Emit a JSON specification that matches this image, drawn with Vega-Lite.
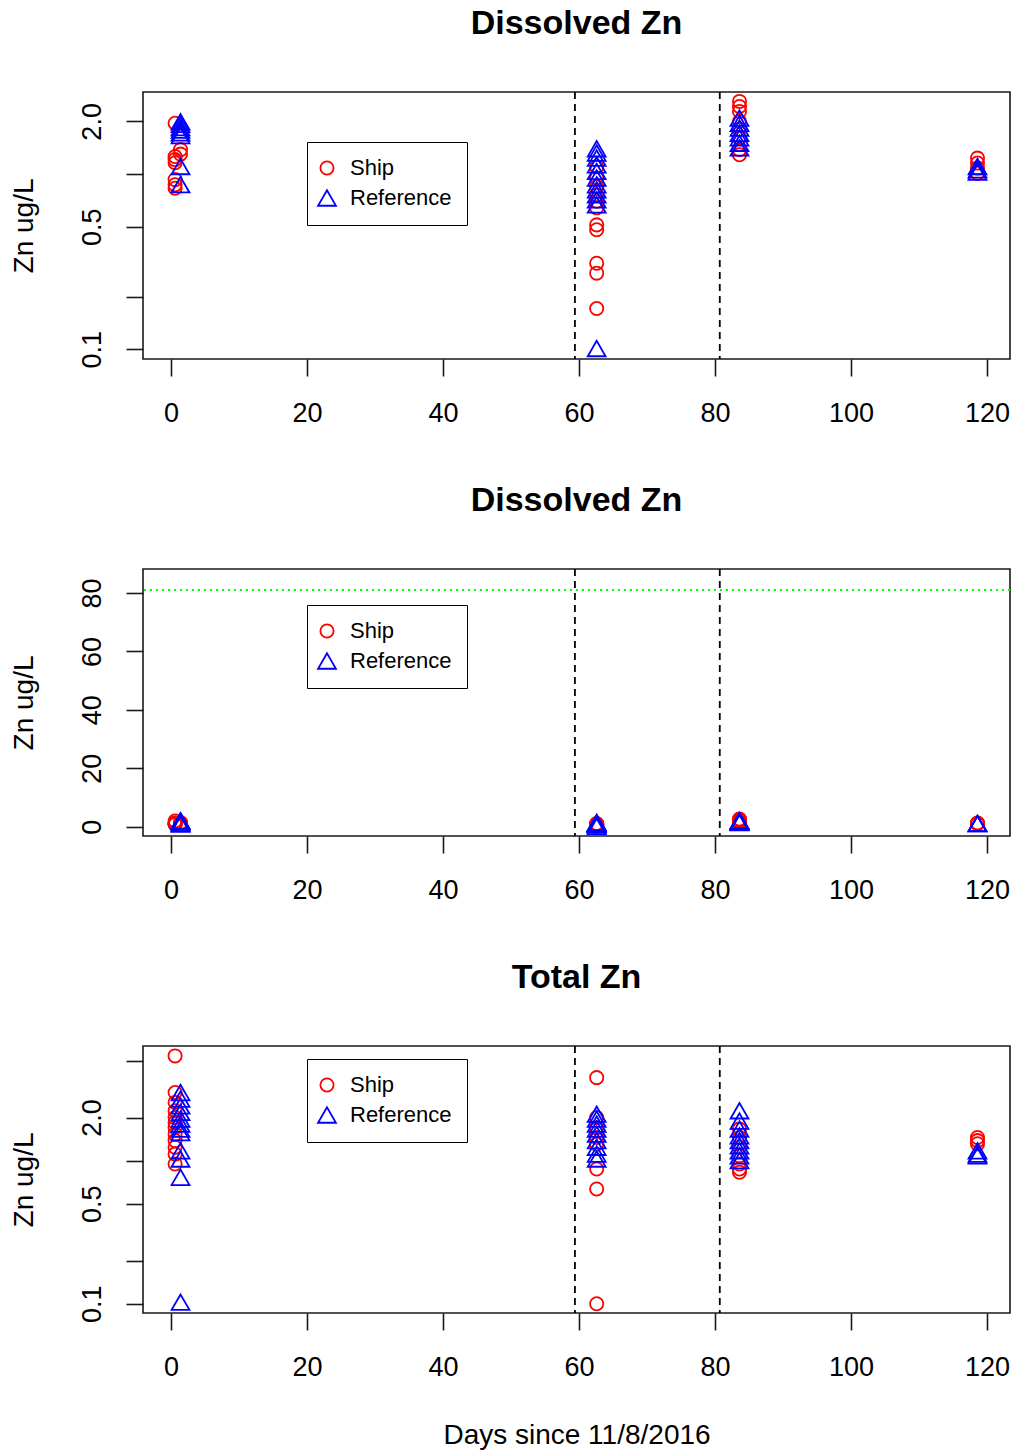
{
  "$schema": "https://vega.github.io/schema/vega-lite/v6.json",
  "autosize": {"type": "pad"},
  "padding": {"left": 9, "top": 6, "right": 6, "bottom": 0},
  "background": "white",
  "bounds": "flush",
  "spacing": 210,
  "datasets": {
    "dissolved": [
      {"day": 0.6, "series": "Ship", "zn": 1.95},
      {"day": 0.6, "series": "Ship", "zn": 1.26},
      {"day": 0.6, "series": "Ship", "zn": 1.21},
      {"day": 0.6, "series": "Ship", "zn": 1.16},
      {"day": 0.6, "series": "Ship", "zn": 0.93},
      {"day": 0.6, "series": "Ship", "zn": 0.87},
      {"day": 0.6, "series": "Ship", "zn": 0.83},
      {"day": 1.4, "series": "Ship", "zn": 1.38},
      {"day": 1.4, "series": "Ship", "zn": 1.3},
      {"day": 62.6, "series": "Ship", "zn": 1.1},
      {"day": 62.6, "series": "Ship", "zn": 0.95},
      {"day": 62.6, "series": "Ship", "zn": 0.85},
      {"day": 62.6, "series": "Ship", "zn": 0.76},
      {"day": 62.6, "series": "Ship", "zn": 0.7},
      {"day": 62.6, "series": "Ship", "zn": 0.642},
      {"day": 62.6, "series": "Ship", "zn": 0.513},
      {"day": 62.6, "series": "Ship", "zn": 0.481},
      {"day": 62.6, "series": "Ship", "zn": 0.31},
      {"day": 62.6, "series": "Ship", "zn": 0.272},
      {"day": 62.6, "series": "Ship", "zn": 0.171},
      {"day": 83.6, "series": "Ship", "zn": 2.6},
      {"day": 83.6, "series": "Ship", "zn": 2.43},
      {"day": 83.6, "series": "Ship", "zn": 2.28},
      {"day": 83.6, "series": "Ship", "zn": 2.0},
      {"day": 83.6, "series": "Ship", "zn": 1.8},
      {"day": 83.6, "series": "Ship", "zn": 1.6},
      {"day": 83.6, "series": "Ship", "zn": 1.38},
      {"day": 83.6, "series": "Ship", "zn": 1.29},
      {"day": 118.6, "series": "Ship", "zn": 1.234},
      {"day": 118.6, "series": "Ship", "zn": 1.156},
      {"day": 118.6, "series": "Ship", "zn": 1.082},
      {"day": 118.6, "series": "Ship", "zn": 1.013},
      {"day": 1.4, "series": "Reference", "zn": 1.99},
      {"day": 1.4, "series": "Reference", "zn": 1.92},
      {"day": 1.4, "series": "Reference", "zn": 1.84},
      {"day": 1.4, "series": "Reference", "zn": 1.78},
      {"day": 1.4, "series": "Reference", "zn": 1.72},
      {"day": 1.4, "series": "Reference", "zn": 1.66},
      {"day": 1.4, "series": "Reference", "zn": 1.105},
      {"day": 1.4, "series": "Reference", "zn": 0.87},
      {"day": 62.6, "series": "Reference", "zn": 1.395},
      {"day": 62.6, "series": "Reference", "zn": 1.318},
      {"day": 62.6, "series": "Reference", "zn": 1.234},
      {"day": 62.6, "series": "Reference", "zn": 1.13},
      {"day": 62.6, "series": "Reference", "zn": 1.035},
      {"day": 62.6, "series": "Reference", "zn": 0.949},
      {"day": 62.6, "series": "Reference", "zn": 0.868},
      {"day": 62.6, "series": "Reference", "zn": 0.813},
      {"day": 62.6, "series": "Reference", "zn": 0.762},
      {"day": 62.6, "series": "Reference", "zn": 0.713},
      {"day": 62.6, "series": "Reference", "zn": 0.668},
      {"day": 62.6, "series": "Reference", "zn": 0.101},
      {"day": 83.6, "series": "Reference", "zn": 2.09},
      {"day": 83.6, "series": "Reference", "zn": 1.95},
      {"day": 83.6, "series": "Reference", "zn": 1.83},
      {"day": 83.6, "series": "Reference", "zn": 1.71},
      {"day": 83.6, "series": "Reference", "zn": 1.61},
      {"day": 83.6, "series": "Reference", "zn": 1.5},
      {"day": 83.6, "series": "Reference", "zn": 1.41},
      {"day": 118.6, "series": "Reference", "zn": 1.105},
      {"day": 118.6, "series": "Reference", "zn": 1.058},
      {"day": 118.6, "series": "Reference", "zn": 1.027}
    ],
    "total": [
      {"day": 0.6, "series": "Ship", "zn": 5.39},
      {"day": 0.6, "series": "Ship", "zn": 2.99},
      {"day": 0.6, "series": "Ship", "zn": 2.55},
      {"day": 0.6, "series": "Ship", "zn": 2.23},
      {"day": 0.6, "series": "Ship", "zn": 2.0},
      {"day": 0.6, "series": "Ship", "zn": 1.85},
      {"day": 0.6, "series": "Ship", "zn": 1.7},
      {"day": 0.6, "series": "Ship", "zn": 1.53},
      {"day": 0.6, "series": "Ship", "zn": 1.38},
      {"day": 0.6, "series": "Ship", "zn": 1.24},
      {"day": 0.6, "series": "Ship", "zn": 1.11},
      {"day": 0.6, "series": "Ship", "zn": 0.947},
      {"day": 62.6, "series": "Ship", "zn": 3.8},
      {"day": 62.6, "series": "Ship", "zn": 2.0},
      {"day": 62.6, "series": "Ship", "zn": 1.7},
      {"day": 62.6, "series": "Ship", "zn": 1.45},
      {"day": 62.6, "series": "Ship", "zn": 1.3},
      {"day": 62.6, "series": "Ship", "zn": 0.874},
      {"day": 62.6, "series": "Ship", "zn": 0.634},
      {"day": 62.6, "series": "Ship", "zn": 0.1},
      {"day": 83.6, "series": "Ship", "zn": 1.66},
      {"day": 83.6, "series": "Ship", "zn": 1.45},
      {"day": 83.6, "series": "Ship", "zn": 1.24},
      {"day": 83.6, "series": "Ship", "zn": 1.08},
      {"day": 83.6, "series": "Ship", "zn": 0.947},
      {"day": 83.6, "series": "Ship", "zn": 0.874},
      {"day": 83.6, "series": "Ship", "zn": 0.83},
      {"day": 118.6, "series": "Ship", "zn": 1.45},
      {"day": 118.6, "series": "Ship", "zn": 1.38},
      {"day": 118.6, "series": "Ship", "zn": 1.31},
      {"day": 1.4, "series": "Reference", "zn": 2.99},
      {"day": 1.4, "series": "Reference", "zn": 2.69},
      {"day": 1.4, "series": "Reference", "zn": 2.41},
      {"day": 1.4, "series": "Reference", "zn": 2.17},
      {"day": 1.4, "series": "Reference", "zn": 1.95},
      {"day": 1.4, "series": "Reference", "zn": 1.8},
      {"day": 1.4, "series": "Reference", "zn": 1.66},
      {"day": 1.4, "series": "Reference", "zn": 1.57},
      {"day": 1.4, "series": "Reference", "zn": 1.17},
      {"day": 1.4, "series": "Reference", "zn": 1.026},
      {"day": 1.4, "series": "Reference", "zn": 0.764},
      {"day": 1.4, "series": "Reference", "zn": 0.1026},
      {"day": 62.6, "series": "Reference", "zn": 2.11},
      {"day": 62.6, "series": "Reference", "zn": 1.95},
      {"day": 62.6, "series": "Reference", "zn": 1.8},
      {"day": 62.6, "series": "Reference", "zn": 1.66},
      {"day": 62.6, "series": "Reference", "zn": 1.53},
      {"day": 62.6, "series": "Reference", "zn": 1.38},
      {"day": 62.6, "series": "Reference", "zn": 1.24},
      {"day": 62.6, "series": "Reference", "zn": 1.11},
      {"day": 62.6, "series": "Reference", "zn": 1.026},
      {"day": 83.6, "series": "Reference", "zn": 2.23},
      {"day": 83.6, "series": "Reference", "zn": 1.89},
      {"day": 83.6, "series": "Reference", "zn": 1.66},
      {"day": 83.6, "series": "Reference", "zn": 1.49},
      {"day": 83.6, "series": "Reference", "zn": 1.38},
      {"day": 83.6, "series": "Reference", "zn": 1.27},
      {"day": 83.6, "series": "Reference", "zn": 1.17},
      {"day": 83.6, "series": "Reference", "zn": 1.08},
      {"day": 83.6, "series": "Reference", "zn": 1.0},
      {"day": 118.6, "series": "Reference", "zn": 1.17},
      {"day": 118.6, "series": "Reference", "zn": 1.11},
      {"day": 118.6, "series": "Reference", "zn": 1.08}
    ],
    "vlines": [{"day": 59.4}, {"day": 80.7}],
    "criterion": [{"zn": 81}]
  },
  "config": {
    "font": "Liberation Sans",
    "view": {"stroke": "#1a1a1a", "strokeWidth": 1.6},
    "axis": {
      "grid": false, "domain": false,
      "tickColor": "#1a1a1a", "tickWidth": 1.6, "tickSize": 17,
      "labelFont": "Liberation Sans", "labelFontSize": 27, "labelColor": "black",
      "titleFont": "Liberation Sans", "titleFontSize": 28, "titleFontWeight": "normal", "titleColor": "black",
      "labelOverlap": false, "labelFlush": false
    },
    "legend": {
      "title": null, "orient": "none", "strokeColor": "black", "fillColor": "white", "padding": 15,
      "labelFontSize": 22, "labelFont": "Liberation Sans", "labelColor": "black",
      "symbolStrokeWidth": 1.8, "rowPadding": 7, "labelOffset": 12, "symbolOffset": -6, "symbolSize": 150
    },
    "title": {"font": "Liberation Sans", "fontSize": 34, "fontWeight": "bold", "color": "black", "anchor": "middle", "baseline": "alphabetic", "offset": 50}
  },
  "resolve": {
    "scale": {"x": "independent", "y": "independent", "color": "independent", "shape": "independent", "size": "independent"},
    "legend": {"color": "independent", "shape": "independent"}
  },
  "vconcat": [
    {
      "width": 867, "height": 267,
      "title": {"text": "Dissolved Zn"},
      "layer": [
        {
          "data": {"name": "vlines"},
          "mark": {"type": "rule", "stroke": "black", "strokeDash": [7, 5], "strokeWidth": 1.8},
          "encoding": {"x": {"field": "day", "type": "quantitative"}}
        },
        {
          "data": {"name": "dissolved"},
          "mark": {"type": "point", "filled": false, "strokeWidth": 1.8, "opacity": 1},
          "encoding": {
            "x": {"field": "day", "type": "quantitative", "scale": {"domain": [-4.118, 123.38], "nice": false, "zero": false},
              "axis": {"values": [0, 20, 40, 60, 80, 100, 120], "format": "d", "labelPadding": 45.7, "labelBaseline": "alphabetic", "title": null}},
            "y": {"field": "zn", "type": "quantitative", "scale": {"type": "log", "domain": [0.088, 2.942], "nice": false, "zero": false},
              "axis": {"values": [0.1, 0.2, 0.5, 1, 2], "labelExpr": "datum.value == 0.1 ? '0.1' : datum.value == 0.5 ? '0.5' : datum.value == 2 ? '2.0' : ''",
                "labelAngle": -90, "labelAlign": "center", "labelBaseline": "alphabetic", "labelPadding": 26,
                "title": "Zn ug/L", "titleX": -111, "titleY": 133.5, "titleAngle": -90, "titleAlign": "center", "titleBaseline": "alphabetic"}},
            "color": {"field": "series", "type": "nominal", "scale": {"domain": ["Ship", "Reference"], "range": ["#ff0000", "#0000ff"]},
              "legend": {"legendX": 164, "legendY": 50, "encode": {"symbols": {"update": {"size": {"signal": "datum.value === 'Ship' ? 120 : 220"}}}}}},
            "shape": {"field": "series", "type": "nominal", "scale": {"domain": ["Ship", "Reference"], "range": ["circle", "triangle-up"]},
              "legend": {"legendX": 164, "legendY": 50}},
            "size": {"field": "series", "type": "nominal", "scale": {"domain": ["Ship", "Reference"], "range": [175, 320]}, "legend": null}
          }
        }
      ]
    },
    {
      "width": 867, "height": 267,
      "title": {"text": "Dissolved Zn"},
      "layer": [
        {
          "data": {"name": "vlines"},
          "mark": {"type": "rule", "stroke": "black", "strokeDash": [7, 5], "strokeWidth": 1.8},
          "encoding": {"x": {"field": "day", "type": "quantitative"}}
        },
        {
          "data": {"name": "criterion"},
          "mark": {"type": "rule", "stroke": "#00ff00", "strokeDash": [2, 4], "strokeWidth": 2},
          "encoding": {"y": {"field": "zn", "type": "quantitative"}}
        },
        {
          "data": {"name": "dissolved"},
          "mark": {"type": "point", "filled": false, "strokeWidth": 1.8, "opacity": 1},
          "encoding": {
            "x": {"field": "day", "type": "quantitative", "scale": {"domain": [-4.118, 123.38], "nice": false, "zero": false},
              "axis": {"values": [0, 20, 40, 60, 80, 100, 120], "format": "d", "labelPadding": 45.7, "labelBaseline": "alphabetic", "title": null}},
            "y": {"field": "zn", "type": "quantitative", "scale": {"domain": [-3.19, 88.2], "nice": false, "zero": false},
              "axis": {"values": [0, 20, 40, 60, 80], "format": "d",
                "labelAngle": -90, "labelAlign": "center", "labelBaseline": "alphabetic", "labelPadding": 26,
                "title": "Zn ug/L", "titleX": -111, "titleY": 133.5, "titleAngle": -90, "titleAlign": "center", "titleBaseline": "alphabetic"}},
            "color": {"field": "series", "type": "nominal", "scale": {"domain": ["Ship", "Reference"], "range": ["#ff0000", "#0000ff"]},
              "legend": {"legendX": 164, "legendY": 36, "encode": {"symbols": {"update": {"size": {"signal": "datum.value === 'Ship' ? 120 : 220"}}}}}},
            "shape": {"field": "series", "type": "nominal", "scale": {"domain": ["Ship", "Reference"], "range": ["circle", "triangle-up"]},
              "legend": {"legendX": 164, "legendY": 36}},
            "size": {"field": "series", "type": "nominal", "scale": {"domain": ["Ship", "Reference"], "range": [175, 320]}, "legend": null}
          }
        }
      ]
    },
    {
      "width": 867, "height": 267,
      "title": {"text": "Total Zn"},
      "layer": [
        {
          "data": {"name": "vlines"},
          "mark": {"type": "rule", "stroke": "black", "strokeDash": [7, 5], "strokeWidth": 1.8},
          "encoding": {"x": {"field": "day", "type": "quantitative"}}
        },
        {
          "data": {"name": "total"},
          "mark": {"type": "point", "filled": false, "strokeWidth": 1.8, "opacity": 1},
          "encoding": {
            "x": {"field": "day", "type": "quantitative", "scale": {"domain": [-4.118, 123.38], "nice": false, "zero": false},
              "axis": {"values": [0, 20, 40, 60, 80, 100, 120], "format": "d", "labelPadding": 45.7, "labelBaseline": "alphabetic",
                "title": "Days since 11/8/2016", "titleX": 433.5, "titleY": 130, "titleAlign": "center", "titleBaseline": "alphabetic"}},
            "y": {"field": "zn", "type": "quantitative", "scale": {"type": "log", "domain": [0.0862, 6.32], "nice": false, "zero": false},
              "axis": {"values": [0.1, 0.2, 0.5, 1, 2, 5], "labelExpr": "datum.value == 0.1 ? '0.1' : datum.value == 0.5 ? '0.5' : datum.value == 2 ? '2.0' : ''",
                "labelAngle": -90, "labelAlign": "center", "labelBaseline": "alphabetic", "labelPadding": 26,
                "title": "Zn ug/L", "titleX": -111, "titleY": 133.5, "titleAngle": -90, "titleAlign": "center", "titleBaseline": "alphabetic"}},
            "color": {"field": "series", "type": "nominal", "scale": {"domain": ["Ship", "Reference"], "range": ["#ff0000", "#0000ff"]},
              "legend": {"legendX": 164, "legendY": 13, "encode": {"symbols": {"update": {"size": {"signal": "datum.value === 'Ship' ? 120 : 220"}}}}}},
            "shape": {"field": "series", "type": "nominal", "scale": {"domain": ["Ship", "Reference"], "range": ["circle", "triangle-up"]},
              "legend": {"legendX": 164, "legendY": 13}},
            "size": {"field": "series", "type": "nominal", "scale": {"domain": ["Ship", "Reference"], "range": [175, 320]}, "legend": null}
          }
        }
      ]
    }
  ]
}
